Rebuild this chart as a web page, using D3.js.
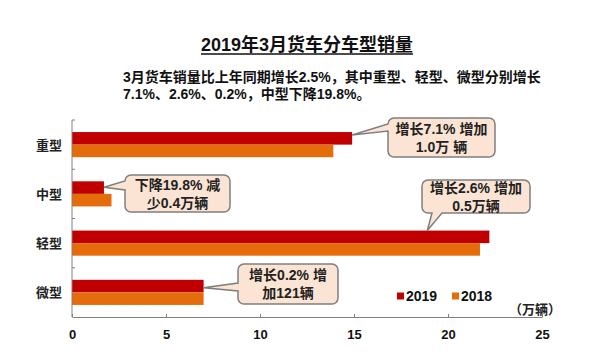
<!DOCTYPE html>
<html>
<head>
<meta charset="utf-8">
<script src="https://cdn.jsdelivr.net/npm/d3@7"></script>
<style>
  html, body { margin: 0; padding: 0; background: #fff; }
  svg { display: block; font-family: "Liberation Sans", Arial, "Noto Sans CJK SC", sans-serif; }
</style>
</head>
<body>
<div id="chart"></div>
<script>
const W = 600, H = 354;
const MARGIN = { top: 120, right: 58, bottom: 37, left: 72 };

const categories = ["重型", "中型", "轻型", "微型"];
const years = ["2019", "2018"];
const sales2019 = [14.9, 1.7, 22.2, 7.0];
const sales2018 = [13.9, 2.1, 21.7, 7.0];
const xTicks = [0, 5, 10, 15, 20, 25];

const titleText = "2019年3月货车分车型销量";
const subtitleLines = [
  "3月货车销量比上年同期增长2.5%，其中重型、轻型、微型分别增长",
  "7.1%、2.6%、0.2%，中型下降19.8%。"
];

// callouts: tip given in data units (value, category, year bar)
const callouts = [
  { lines: ["增长7.1% 增加", "1.0万 辆"], box: [388, 118, 107, 39], side: "left", notch: [124, 131], tip: { v: 14.9, cat: "重型", dy: 3 } },
  { lines: ["下降19.8% 减", "少0.4万辆"], box: [125, 175, 105, 37], side: "left", notch: [181, 190], tip: { v: 1.7, cat: "中型", dy: 6 } },
  { lines: ["增长2.6% 增加", "0.5万辆"], box: [422, 180, 108, 33], side: "bottom", notch: [432, 442], tip: { v: 18.9, cat: "轻型", dy: 0 } },
  { lines: ["增长0.2% 增", "加121辆"], box: [238, 264, 100, 40], side: "left", notch: [283, 291], tip: { v: 7.0, cat: "微型", dy: 8 } }
];

const COLORS = { "2019": "#c00000", "2018": "#e46c0a" };
const CJK = "'Liberation Sans', Arial, 'Noto Sans CJK SC', sans-serif";

const svg = d3.select("#chart").append("svg")
  .attr("width", W).attr("height", H)
  .attr("viewBox", `0 0 ${W} ${H}`);

svg.append("rect").attr("width", W).attr("height", H).attr("fill", "#fff");

const x = d3.scaleLinear().domain([0, 25]).range([MARGIN.left, W - MARGIN.right]);
const y = d3.scaleBand().domain(categories)
  .range([MARGIN.top, H - MARGIN.bottom])
  .paddingInner(0.49).paddingOuter(0.245);
const yInner = d3.scaleBand().domain(years).range([0, y.bandwidth()]);

// Title (underlined)
const title = svg.append("text")
  .attr("x", 307).attr("y", 51)
  .attr("text-anchor", "middle")
  .attr("font-size", 18).attr("font-weight", "bold")
  .attr("fill", "#111")
  .text(titleText);
const tb = title.node().getBBox();
svg.append("line")
  .attr("x1", tb.x).attr("x2", tb.x + tb.width)
  .attr("y1", 54).attr("y2", 54)
  .attr("stroke", "#111").attr("stroke-width", 1.3);

// Subtitle
svg.append("g").selectAll("text")
  .data(subtitleLines)
  .join("text")
  .attr("x", 123)
  .attr("y", (d, i) => 82 + i * 17)
  .attr("font-size", 14).attr("font-weight", "bold")
  .attr("fill", "#111")
  .text(d => d);

// Bars
const rows = categories.map((c, i) => ({ cat: c, "2019": sales2019[i], "2018": sales2018[i] }));
const barG = svg.append("g");
rows.forEach(r => {
  barG.selectAll(null)
    .data(years)
    .join("rect")
    .attr("x", x(0))
    .attr("y", yr => y(r.cat) + yInner(yr))
    .attr("width", yr => x(r[yr]) - x(0))
    .attr("height", yInner.bandwidth())
    .attr("fill", yr => COLORS[yr]);
});

// Left axis: line + ticks at category boundaries
const axisColor = "#808080";
const gap = (y.step() - y.bandwidth()) / 2;
const bounds = categories.map(c => y(c) - gap);
svg.append("line")
  .attr("x1", x(0)).attr("x2", x(0))
  .attr("y1", y.range()[0]).attr("y2", y.range()[1])
  .attr("stroke", axisColor).attr("stroke-width", 1);
svg.append("g").selectAll("line")
  .data(bounds)
  .join("line")
  .attr("x1", x(0)).attr("x2", x(0) + 3)
  .attr("y1", d => d).attr("y2", d => d)
  .attr("stroke", axisColor);

svg.append("g").selectAll("text")
  .data(categories)
  .join("text")
  .attr("x", 62)
  .attr("y", d => y(d) + y.bandwidth() / 2 + 5)
  .attr("text-anchor", "end")
  .attr("font-size", 13).attr("font-weight", "bold")
  .attr("fill", "#222")
  .text(d => d);

// Bottom axis
const xAxis = svg.append("g")
  .attr("transform", `translate(0,${y.range()[1]})`)
  .call(d3.axisBottom(x).tickValues(xTicks).tickSizeInner(-3).tickSizeOuter(0).tickPadding(13));
xAxis.select(".domain").attr("stroke", axisColor);
xAxis.selectAll(".tick line").attr("stroke", axisColor);
xAxis.selectAll(".tick text")
  .attr("font-size", 13).attr("font-weight", "bold")
  .attr("font-family", CJK)
  .attr("fill", "#111");

svg.append("text")
  .attr("x", 535).attr("y", 314)
  .attr("text-anchor", "middle")
  .attr("font-size", 13).attr("font-weight", "bold")
  .attr("fill", "#222")
  .text("（万辆）");

// Legend
const legend = svg.append("g").attr("transform", "translate(397,296)");
const legX = [0, 55];
years.forEach((yr, i) => {
  legend.append("rect")
    .attr("x", legX[i]).attr("y", -3.5)
    .attr("width", 7).attr("height", 7)
    .attr("fill", COLORS[yr]);
  legend.append("text")
    .attr("x", legX[i] + 9).attr("y", 5)
    .attr("font-size", 14).attr("font-weight", "bold")
    .attr("fill", "#111")
    .text(yr);
});

// Callouts
function calloutPath(c, tipX, tipY) {
  const [bx, by, bw, bh] = c.box;
  const r = 6;
  const p = d3.path();
  p.moveTo(bx + r, by);
  p.lineTo(bx + bw - r, by);
  p.arcTo(bx + bw, by, bx + bw, by + r, r);
  p.lineTo(bx + bw, by + bh - r);
  p.arcTo(bx + bw, by + bh, bx + bw - r, by + bh, r);
  if (c.side === "bottom") {
    p.lineTo(c.notch[1], by + bh);
    p.lineTo(tipX, tipY);
    p.lineTo(c.notch[0], by + bh);
  }
  p.lineTo(bx + r, by + bh);
  p.arcTo(bx, by + bh, bx, by + bh - r, r);
  if (c.side === "left") {
    p.lineTo(bx, c.notch[1]);
    p.lineTo(tipX, tipY);
    p.lineTo(bx, c.notch[0]);
  }
  p.lineTo(bx, by + r);
  p.arcTo(bx, by, bx + r, by, r);
  p.closePath();
  return p.toString();
}

const cg = svg.append("g");
callouts.forEach(c => {
  const tipX = x(c.tip.v);
  const tipY = y(c.tip.cat) + yInner("2019") + c.tip.dy;
  cg.append("path")
    .attr("d", calloutPath(c, tipX, tipY))
    .attr("fill", "#fbe4d3")
    .attr("stroke", "#7f7f7f")
    .attr("stroke-width", 1.5);
  const [bx, by, bw, bh] = c.box;
  cg.append("g").selectAll("text")
    .data(c.lines)
    .join("text")
    .attr("x", bx + bw / 2)
    .attr("y", (d, i) => by + bh / 2 - 4 + i * 18)
    .attr("text-anchor", "middle")
    .attr("font-size", 14).attr("font-weight", "bold")
    .attr("fill", "#222")
    .text(d => d);
});
</script>
</body>
</html>
